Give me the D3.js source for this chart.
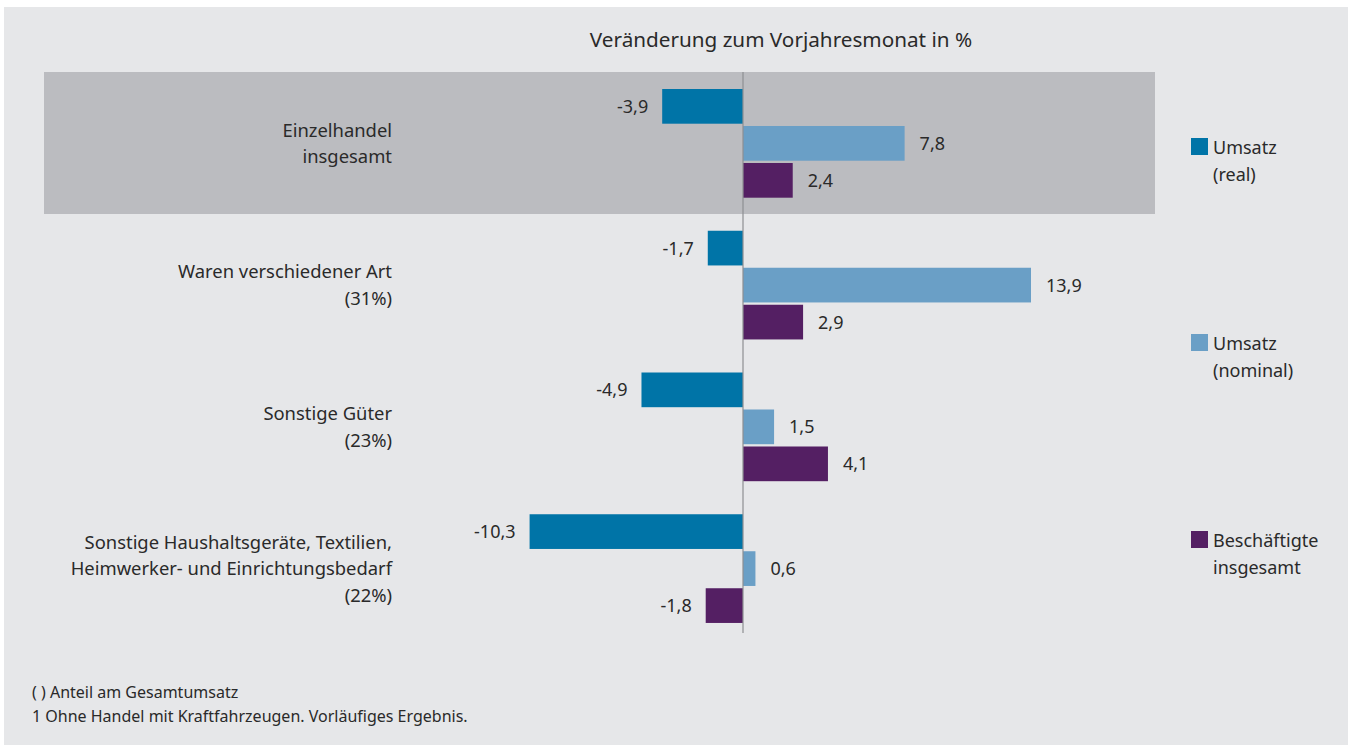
<!DOCTYPE html>
<html><head><meta charset="utf-8">
<script src="https://cdn.jsdelivr.net/npm/d3@7"></script>
<style>
html,body{margin:0;padding:0;background:#fff;}
svg{display:block;font-family:"Noto Sans",sans-serif;}
</style></head>
<body>
<svg id="chart" width="1352" height="749"></svg>
<script>
const categories = ["Einzelhandel\ninsgesamt","Waren verschiedener Art\n(31%)","Sonstige Güter\n(23%)","Sonstige Haushaltsgeräte, Textilien,\nHeimwerker- und Einrichtungsbedarf\n(22%)"];
const seriesNames = ["Umsatz\n(real)","Umsatz\n(nominal)","Beschäftigte\ninsgesamt"];
const umsatzReal = [-3.9,-1.7,-4.9,-10.3];
const umsatzNominal = [7.8,13.9,1.5,0.6];
const beschaeftigte = [2.4,2.9,4.1,-1.8];
const colors = ["#0074a7","#6a9fc6","#541f63"];
const title = "Veränderung zum Vorjahresmonat in %";
const footnotes = ["( ) Anteil am Gesamtumsatz","1 Ohne Handel mit Kraftfahrzeugen. Vorläufiges Ergebnis."];

const series = [umsatzReal, umsatzNominal, beschaeftigte];
const svg = d3.select("#chart");
const textColor = "#2a2a2a";

svg.append("rect").attr("x",4).attr("y",7).attr("width",1344).attr("height",738).attr("fill","#e6e7e9");

const x = d3.scaleLinear().domain([0,13.9]).range([743,1031]);
const y0 = d3.scaleBand().domain(d3.range(categories.length)).range([72,639]);
const y1 = d3.scaleBand().domain(d3.range(3)).range([17,125.7]).paddingInner(0.062);

// highlight
svg.append("rect").attr("x",44).attr("y",72).attr("width",1111).attr("height",142).attr("fill","#bbbcc0");

svg.append("text").attr("x",781).attr("y",47).attr("text-anchor","middle")
  .attr("font-size",20.7).attr("fill",textColor).text(title);

const fmt = v => d3.format(".1f")(v).replace(".",",").replace("−","-");

categories.forEach((c,i)=>{
  const g = svg.append("g").attr("transform",`translate(0,${y0(i)})`);
  series.forEach((s,j)=>{
    const v = s[i];
    const yy = y1(j), h = y1.bandwidth();
    g.append("rect").attr("x",Math.min(x(0),x(v))).attr("y",yy)
      .attr("width",Math.abs(x(v)-x(0))).attr("height",h).attr("fill",colors[j]);
    g.append("text").attr("x", v<0 ? x(v)-14 : x(v)+15).attr("y",yy+h/2+6.5)
      .attr("text-anchor", v<0 ? "end":"start").attr("font-size",18).attr("fill",textColor)
      .text(fmt(v));
  });
  const lines = c.split("\n");
  const cy = y1(1)+y1.bandwidth()/2;
  const lh = 26.5;
  const t = g.append("text").attr("text-anchor","end").attr("font-size",18.4).attr("fill",textColor);
  lines.forEach((l,k)=>{
    t.append("tspan").attr("x",392).attr("y",cy + (k-(lines.length-1)/2)*lh + 6.5).text(l);
  });
});

// zero line
svg.append("line").attr("x1",x(0)).attr("x2",x(0)).attr("y1",72).attr("y2",633)
  .attr("stroke","#8e8f92").attr("stroke-width",1.2);

// legend
const legY = [147,343,540];
seriesNames.forEach((n,j)=>{
  svg.append("rect").attr("x",1191).attr("y",legY[j]-9).attr("width",17).attr("height",17).attr("fill",colors[j]);
  const t = svg.append("text").attr("font-size",18).attr("fill",textColor);
  n.split("\n").forEach((l,k)=>{
    t.append("tspan").attr("x",1213).attr("y",legY[j]+6.5+k*27).text(l);
  });
});

footnotes.forEach((f,k)=>{
  svg.append("text").attr("x",32).attr("y",698+k*24).attr("font-size",16).attr("fill",textColor).text(f);
});
</script>
</body></html>
